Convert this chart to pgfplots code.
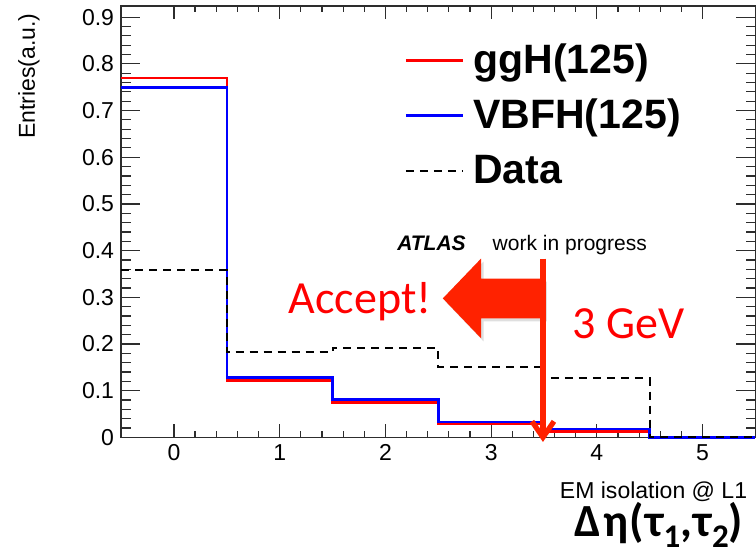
\documentclass[border=0pt]{standalone}
\usepackage{pgfplots}
\pgfplotsset{compat=1.18}
\usepackage{fontspec}
\setmainfont{Liberation Sans}
\newfontfamily\calibri{Carlito}
\newfontfamily\calibriwide[LetterSpace=3.5]{Carlito}
\usetikzlibrary{arrows.meta,shadows}
\definecolor{arr}{RGB}{255,34,0}
\definecolor{axgray}{RGB}{45,45,45}
\begin{document}
\begin{tikzpicture}
\begin{axis}[
  scale only axis, width=317pt, height=215.5pt,
  xmin=-0.5, xmax=5.5, ymin=0, ymax=0.924,
  xtick={0,1,2,3,4,5},
  ytick={0,0.1,0.2,0.3,0.4,0.5,0.6,0.7,0.8,0.9},
  minor x tick num=4, minor y tick num=4,
  tick pos=both, tick align=inside,
  axis line style={axgray, line width=0.6pt},
  every tick/.style={axgray, line width=0.6pt},
  xtick style={/pgfplots/major tick length=6.5pt,/pgfplots/minor tick length=3.25pt},
  ytick style={/pgfplots/major tick length=9.5pt,/pgfplots/minor tick length=4.75pt},
  ticklabel style={font=\fontsize{11.5}{13}\selectfont},
  /pgf/number format/assume math mode=true,
  yticklabel style={/pgf/number format/fixed, /pgf/number format/precision=1},
  clip=false,
  legend cell align=left,
  legend style={at={(0.4463,0.914)}, anchor=north west, draw=none, fill=none,
    font=\bfseries\fontsize{20.5}{24}\selectfont, inner sep=0pt,
    row sep=8pt, column sep=4.5pt,
    nodes={inner sep=0pt, text height=15pt, text depth=4.5pt}},
  legend image code/.code={\draw[#1] (0pt,1.25pt) -- (28.5pt,1.25pt);},
]
\addplot[const plot, red, line width=1.3pt] coordinates {(-0.5,0.770) (0.5,0.122) (1.5,0.0745) (2.5,0.0285) (3.5,0.012) (4.5,0) (5.5,0)};
\addlegendentry{ggH(125)}
\addplot[const plot, blue, line width=1.3pt] coordinates {(-0.5,0.749) (0.5,0.128) (1.5,0.0807) (2.5,0.033) (3.5,0.018) (4.5,0) (5.5,0)};
\addlegendentry{VBFH(125)}
\addplot[const plot, black, line width=1pt, dash pattern=on 4pt off 3pt] coordinates {(-0.5,0.358) (0.5,0.183) (1.5,0.192) (2.5,0.151) (3.5,0.126) (4.5,0) (5.5,0)};
\addlegendentry{Data}
\fill[arr, drop shadow={opacity=0.25, shadow xshift=1.2pt, shadow yshift=-1.5pt}]
  (axis cs:2.543,0.2976) -- (axis cs:2.905,0.383) -- (axis cs:2.905,0.340) -- (axis cs:3.505,0.340)
  -- (axis cs:3.505,0.255) -- (axis cs:2.905,0.255) -- (axis cs:2.905,0.212) -- cycle;
\draw[arr, line width=2.6pt, -{Straight Barb[length=8pt,width=11pt]}] (axis cs:3.49,0.383) -- (axis cs:3.49,-0.01);
\end{axis}
\node[anchor=base west, inner sep=0pt, font=\fontsize{10.5}{12}\selectfont] at (137.8pt,93.5pt) {\bfseries\itshape ATLAS};
\node[anchor=base west, inner sep=0pt, font=\fontsize{10.5}{12}\selectfont] at (185.5pt,93.5pt) {work in progress};
\node[anchor=base west, inner sep=0pt, text=red, font=\calibri\fontsize{23}{27}\selectfont] at (83.5pt,62pt) {Accept!};
\node[anchor=base west, inner sep=0pt, text=red, font=\calibri\fontsize{23}{27}\selectfont] at (225.5pt,49.5pt) {3 GeV};
\node[anchor=base east, inner sep=0pt, font=\fontsize{11.5}{13}\selectfont] at (313pt,-30.5pt) {EM isolation @ L1};
\node[anchor=base east, inner sep=0pt, font=\calibriwide\bfseries\fontsize{23}{27}\selectfont] at (311pt,-49.5pt) {Δη(τ\raisebox{-5.5pt}{\fontsize{16.5}{20}\selectfont 1},τ\raisebox{-5.5pt}{\fontsize{16.5}{20}\selectfont 2})};
\node[rotate=90, anchor=east, inner sep=0pt, font=\fontsize{11.5}{13}\selectfont] at (-46pt,212pt) {Entries(a.u.)};
\pgfresetboundingbox
\useasboundingbox (-60.5pt,-58pt) rectangle (317.25pt,218.5pt);
\end{tikzpicture}
\end{document}
